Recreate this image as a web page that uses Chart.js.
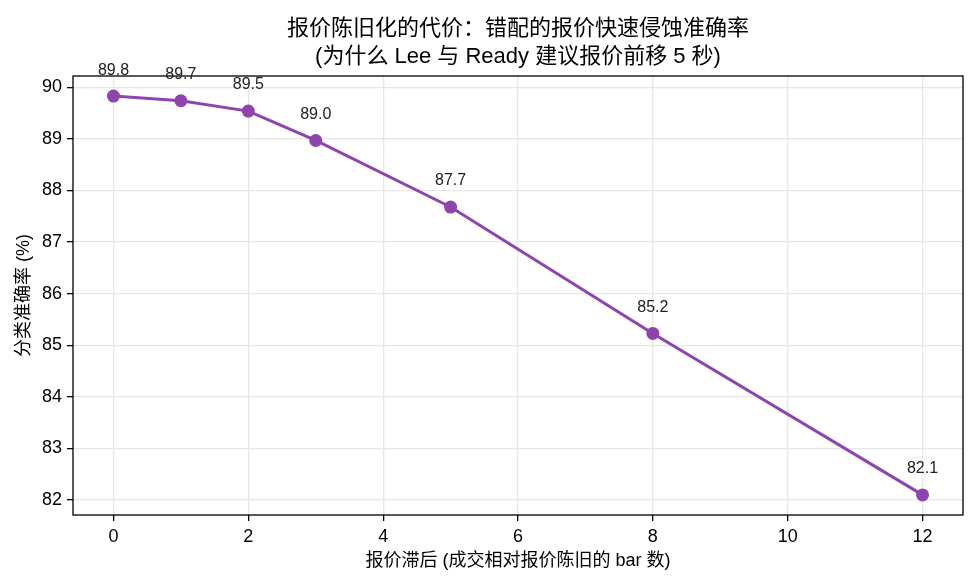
<!DOCTYPE html>
<html>
<head>
<meta charset="utf-8">
<script src="https://cdn.jsdelivr.net/npm/chart.js@4.4.0/dist/chart.umd.min.js"></script>
<style>
  body { margin: 0; background: #fff; }
  canvas { display: block; }
</style>
</head>
<body>
<canvas id="lagChart" width="976" height="584"></canvas>
<script>
// data
var lagBars = [0, 1, 2, 3, 5, 8, 12];
var accuracy = [89.83, 89.74, 89.54, 88.97, 87.68, 85.23, 82.10];
var xTicks = [0, 2, 4, 6, 8, 10, 12];
var yTicks = [82, 83, 84, 85, 86, 87, 88, 89, 90];
var titleLines = ['报价陈旧化的代价：错配的报价快速侵蚀准确率', '(为什么 Lee 与 Ready 建议报价前移 5 秒)'];

var FONT = "'Liberation Sans', 'Noto Sans CJK SC', sans-serif";
var purple = '#8e44ad';

var points = [];
for (var i in lagBars) {
  points.push({x: lagBars[i], y: accuracy[i]});
}

// title, frame and value labels
var extras = {
  id: 'extras',
  afterDraw: function(chart) {
    var ctx = chart.ctx;
    var area = chart.chartArea;
    ctx.save();
    ctx.fillStyle = '#000';
    ctx.textAlign = 'center';
    ctx.textBaseline = 'middle';
    ctx.font = '22px ' + FONT;
    var cx = (area.left + area.right) / 2;
    ctx.fillText(titleLines[0], cx, 29);
    ctx.fillText(titleLines[1], cx, 57);

    ctx.strokeStyle = '#000';
    ctx.lineWidth = 1.3;
    ctx.strokeRect(area.left, area.top, area.right - area.left, area.bottom - area.top);

    var meta = chart.getDatasetMeta(0);
    ctx.font = '16px ' + FONT;
    ctx.fillStyle = '#222';
    meta.data.forEach(function(pt, k) {
      ctx.fillText(accuracy[k].toFixed(1), pt.x, pt.y - 26);
    });
    ctx.restore();
  }
};

var ctx = document.getElementById('lagChart');

var lineChart = new Chart(ctx, {
  type: 'line',
  data: {
    datasets: [{
      data: points,
      borderColor: purple,
      backgroundColor: purple,
      borderWidth: 3,
      pointRadius: 6.5,
      pointBorderWidth: 0,
      pointBackgroundColor: purple,
      tension: 0
    }]
  },
  options: {
    responsive: false,
    animation: false,
    layout: { padding: { top: 76, right: 13, left: 0, bottom: 0 } },
    plugins: {
      legend: { display: false },
      tooltip: { enabled: false }
    },
    scales: {
      x: {
        type: 'linear',
        min: -0.6,
        max: 12.6,
        afterBuildTicks: function(axis) {
          axis.ticks = xTicks.map(function(v) { return {value: v}; });
        },
        afterFit: function(axis) { axis.height = 69; },
        grid: { color: '#e6e6e6', lineWidth: 1.3, tickColor: '#000', tickLength: 6, tickWidth: 1.3 },
        border: { display: false },
        ticks: { color: '#000', padding: 5, font: { family: FONT, size: 18 } },
        title: {
          display: true,
          text: '报价滞后 (成交相对报价陈旧的 bar 数)',
          color: '#000',
          font: { family: FONT, size: 18 },
          padding: { top: 0, bottom: 12 }
        }
      },
      y: {
        min: 81.71,
        max: 90.22,
        afterBuildTicks: function(axis) {
          axis.ticks = yTicks.map(function(v) { return {value: v}; });
        },
        afterFit: function(axis) { axis.width = 73; },
        grid: { color: '#e6e6e6', lineWidth: 1.3, tickColor: '#000', tickLength: 6, tickWidth: 1.3 },
        border: { display: false },
        ticks: { color: '#000', padding: 5, font: { family: FONT, size: 18 } },
        title: {
          display: true,
          text: '分类准确率 (%)',
          color: '#000',
          font: { family: FONT, size: 18 },
          padding: { top: 13, bottom: 0 }
        }
      }
    }
  },
  plugins: [extras]
});
</script>
</body>
</html>
